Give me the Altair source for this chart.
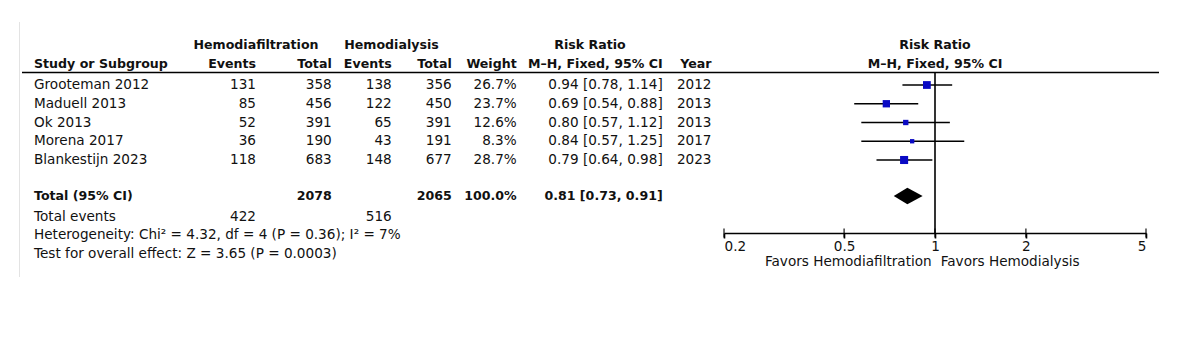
import altair as alt
import pandas as pd

# ---------------- data ----------------
studies = ["Grooteman 2012", "Maduell 2013", "Ok 2013", "Morena 2017", "Blankestijn 2023"]
hdf_events = [131, 85, 52, 36, 118]
hdf_total = [358, 456, 391, 190, 683]
hd_events = [138, 122, 65, 43, 148]
hd_total = [356, 450, 391, 191, 677]
weights = [26.7, 23.7, 12.6, 8.3, 28.7]
rr = [0.94, 0.69, 0.80, 0.84, 0.79]
rr_lo = [0.78, 0.54, 0.57, 0.57, 0.64]
rr_hi = [1.14, 0.88, 1.12, 1.25, 0.98]
years = [2012, 2013, 2013, 2017, 2023]

total_hdf = 2078
total_hd = 2065
total_weight = 100.0
total_rr, total_lo, total_hi = 0.81, 0.73, 0.91
events_hdf, events_hd = 422, 516
heterogeneity = "Heterogeneity: Chi\u00b2 = 4.32, df = 4 (P = 0.36); I\u00b2 = 7%"
overall = "Test for overall effect: Z = 3.65 (P = 0.0003)"
axis_ticks = [0.2, 0.5, 1, 2, 5]
favors_left = "Favors Hemodiafiltration"
favors_right = "Favors Hemodialysis"

# ---------------- layout ----------------
FONT = "DejaVu Sans"
FS = 13.6
FSB = 12.6
rows = list(range(len(studies)))
ROW_TOTAL, ROW_EVENTS, ROW_HET, ROW_TEST = 5.92, 7.03, 8.02, 9.02

yscale = alt.Scale(domain=[0, 9], range=[85, 253.75])
xscale = alt.Scale(type="log", domain=[0.2, 5], range=[724, 1146])
AXIS_Y = 233

study_df = pd.DataFrame({
    "row": rows,
    "study": studies,
    "hdf_e": [str(v) for v in hdf_events],
    "hdf_t": [str(v) for v in hdf_total],
    "hd_e": [str(v) for v in hd_events],
    "hd_t": [str(v) for v in hd_total],
    "weight": weights,
    "weight_s": [f"{w:.1f}%" for w in weights],
    "rr": rr,
    "lo": rr_lo,
    "hi": rr_hi,
    "rr_s": [f"{a:.2f} [{b:.2f}, {c:.2f}]" for a, b, c in zip(rr, rr_lo, rr_hi)],
    "year": [str(y) for y in years],
})

Y = alt.Y("row:Q", scale=yscale, axis=None)


def _mark(align, bold):
    return dict(align=align, baseline="middle", font=FONT,
                fontSize=FSB if bold else FS,
                fontWeight="bold" if bold else "normal", color="#111")


def col_text(field, x, align="right", bold=False, df=study_df):
    return alt.Chart(df).mark_text(**_mark(align, bold)).encode(
        x=alt.value(x), y=Y, text=f"{field}:N")


def fixed_text(txt, x, y, align="left", bold=False):
    return alt.Chart(pd.DataFrame({"t": [txt]})).mark_text(**_mark(align, bold)).encode(
        x=alt.value(x), y=alt.value(y), text="t:N")


def row_text(txt, x, row, align="left", bold=False):
    df = pd.DataFrame({"row": [row], "t": [txt]})
    return alt.Chart(df).mark_text(**_mark(align, bold)).encode(
        x=alt.value(x), y=Y, text="t:N")


C_STUDY, C_HDFE, C_HDFT, C_HDE, C_HDT, C_W, C_RR, C_YEAR = 34, 256, 331.7, 391.7, 451.7, 516.7, 662.7, 711.5
H1, H2 = 45, 64

layers = []

# decorations
layers.append(alt.Chart(pd.DataFrame({"a": [0]})).mark_rule(color="#e3e3e3", strokeWidth=1).encode(
    x=alt.value(19.5), y=alt.value(22), y2=alt.value(277)))
layers.append(alt.Chart(pd.DataFrame({"a": [0]})).mark_rule(color="#000", strokeWidth=1.6).encode(
    x=alt.value(22), x2=alt.value(1159), y=alt.value(72.5)))

# headers
layers += [
    fixed_text("Hemodiafiltration", 256, H1, "center", True),
    fixed_text("Hemodialysis", 391.5, H1, "center", True),
    fixed_text("Risk Ratio", 590, H1, "center", True),
    fixed_text("Risk Ratio", 935, H1, "center", True),
    fixed_text("Study or Subgroup", C_STUDY, H2, "left", True),
    fixed_text("Events", C_HDFE, H2, "right", True),
    fixed_text("Total", C_HDFT, H2, "right", True),
    fixed_text("Events", C_HDE, H2, "right", True),
    fixed_text("Total", C_HDT, H2, "right", True),
    fixed_text("Weight", C_W, H2, "right", True),
    fixed_text("M\u2013H, Fixed, 95% CI", C_RR, H2, "right", True),
    fixed_text("Year", C_YEAR, H2, "right", True),
    fixed_text("M\u2013H, Fixed, 95% CI", 935, H2, "center", True),
]

# study rows
layers += [
    col_text("study", C_STUDY, "left"),
    col_text("hdf_e", C_HDFE),
    col_text("hdf_t", C_HDFT),
    col_text("hd_e", C_HDE),
    col_text("hd_t", C_HDT),
    col_text("weight_s", C_W),
    col_text("rr_s", C_RR),
    col_text("year", C_YEAR),
]

# totals / summary
layers += [
    row_text("Total (95% CI)", C_STUDY, ROW_TOTAL, "left", True),
    row_text(str(total_hdf), C_HDFT, ROW_TOTAL, "right", True),
    row_text(str(total_hd), C_HDT, ROW_TOTAL, "right", True),
    row_text(f"{total_weight:.1f}%", C_W, ROW_TOTAL, "right", True),
    row_text(f"{total_rr:.2f} [{total_lo:.2f}, {total_hi:.2f}]", C_RR, ROW_TOTAL, "right", True),
    row_text("Total events", C_STUDY, ROW_EVENTS, "left"),
    row_text(str(events_hdf), C_HDFE, ROW_EVENTS, "right"),
    row_text(str(events_hd), C_HDE, ROW_EVENTS, "right"),
    row_text(heterogeneity, C_STUDY, ROW_HET, "left"),
    row_text(overall, C_STUDY, ROW_TEST, "left"),
]

# ---------------- forest plot ----------------
xaxis = alt.Axis(values=axis_ticks, format="~g", offset=AXIS_Y - 341, title=None, grid=False,
                 domainColor="#000", domainWidth=1.6, tickColor="#000", tickWidth=1.6, tickSize=5,
                 labelFlush=True, labelPadding=1.5, labelFont=FONT, labelFontSize=FS, labelColor="#111")

ci = alt.Chart(study_df).mark_rule(color="#000", strokeWidth=1.6).encode(
    x=alt.X("lo:Q", scale=xscale, axis=xaxis), x2="hi:Q", y=Y)
sq = alt.Chart(study_df).mark_square(filled=True, color="#0a0ac4", opacity=1).encode(
    x=alt.X("rr:Q", scale=xscale, axis=xaxis), y=Y,
    size=alt.Size("weight:Q", scale=alt.Scale(domain=[0, 30], range=[0, 68]), legend=None))

vline = alt.Chart(pd.DataFrame({"a": [0]})).mark_rule(color="#000", strokeWidth=1.6).encode(
    x=alt.X(datum=1, scale=xscale, axis=xaxis), y=alt.value(72.5), y2=alt.value(AXIS_Y))

tick_df = pd.DataFrame({"t": axis_ticks})
ticks = alt.Chart(tick_df).mark_tick(color="#000", thickness=1.6, size=9, orient="vertical").encode(
    x=alt.X("t:Q", scale=xscale, axis=xaxis), y=alt.value(AXIS_Y))

H = 0.44
diamond_df = pd.DataFrame({
    "x": [total_lo, total_rr, total_hi],
    "y": [ROW_TOTAL, ROW_TOTAL - H, ROW_TOTAL],
    "y2": [ROW_TOTAL, ROW_TOTAL + H, ROW_TOTAL],
})
diamond = alt.Chart(diamond_df).mark_area(color="#000", opacity=1, interpolate="linear").encode(
    x=alt.X("x:Q", scale=xscale, axis=xaxis),
    y=alt.Y("y:Q", scale=yscale, axis=None, stack=None),
    y2="y2:Q")

fav_l = fixed_text(favors_left, 931.7, 261.7, "right")
fav_r = fixed_text(favors_right, 940.7, 261.7, "left")

layers += [ci, sq, vline, ticks, diamond, fav_l, fav_r]

chart = alt.layer(*layers).properties(
    width=1200, height=341, autosize=alt.AutoSizeParams(type="none"), padding=0,
    background="white"
).configure_view(stroke=None)

chart.save("out.html", embed_options={"renderer": "svg", "actions": False})
